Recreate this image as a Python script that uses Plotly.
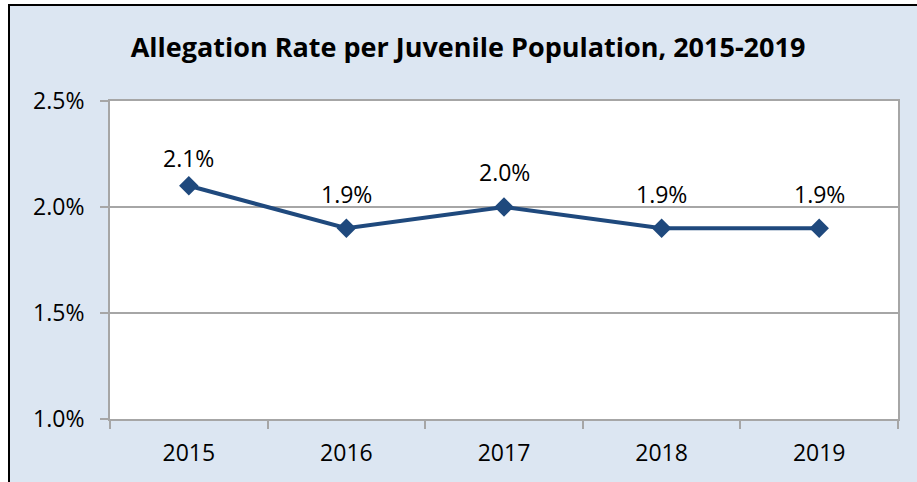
import plotly.graph_objects as go

years = ["2015", "2016", "2017", "2018", "2019"]
rates = [0.021, 0.019, 0.020, 0.019, 0.019]
rate_labels = ["2.1%", "1.9%", "2.0%", "1.9%", "1.9%"]

W, H = 917, 482
# plot area in pixels
left, right, top, bottom = 110, 898, 101, 419
pw, ph = right - left, bottom - top

font_family = "Open Sans, Noto Sans, sans-serif"
line_blue = "#1F497D"
back_blue = "#DCE6F2"
grid_gray = "#A6A6A6"
# vertical offset of each data label above its point (px)
label_shift = [28, 34, 35, 34, 34]

fig = go.Figure()
fig.add_trace(go.Scatter(
    x=years,
    y=rates,
    mode="lines+markers",
    line=dict(color=line_blue, width=4),
    marker=dict(symbol="diamond", size=15, color=line_blue),
    showlegend=False,
    cliponaxis=False,
))

# data labels above each point (category axis -> position by index)
for i, (val, lab) in enumerate(zip(rates, rate_labels)):
    fig.add_annotation(
        x=i, y=val, text=lab, showarrow=False,
        yshift=label_shift[i],
        font=dict(family=font_family, size=23, color="black"),
    )

# outer chart frame (cropped on right and bottom)
fig.add_shape(
    type="rect", xref="paper", yref="paper", layer="below",
    x0=(9 - left) / pw, x1=(W + 20 - left) / pw,
    y0=(bottom - (H + 20)) / ph, y1=(bottom - 5) / ph,
    fillcolor=back_blue, line=dict(color="black", width=2),
)
# white plot area
fig.add_shape(
    type="rect", xref="paper", yref="paper", layer="below",
    x0=0, x1=1, y0=0, y1=1,
    fillcolor="white", line=dict(width=0),
)

fig.update_layout(
    width=W,
    height=H,
    margin=dict(l=left, r=W - right, t=top, b=H - bottom),
    paper_bgcolor="white",
    plot_bgcolor="rgba(0,0,0,0)",
    title=dict(
        text="<b>Allegation Rate per Juvenile Population, 2015-2019</b>",
        x=468 / W, xanchor="center",
        y=1 - 48 / H, yanchor="middle",
        font=dict(family=font_family, size=27, color="black"),
    ),
    font=dict(family=font_family, size=23, color="black"),
)

fig.update_xaxes(
    type="category",
    range=[-0.5, 4.5],
    tickson="boundaries",
    ticks="outside",
    ticklen=8,
    tickcolor=grid_gray,
    tickwidth=2,
    ticklabelstandoff=12,
    showgrid=False,
    showline=True,
    linecolor=grid_gray,
    linewidth=2,
    mirror=True,
    tickfont=dict(family=font_family, size=23, color="black"),
)

fig.update_yaxes(
    range=[0.01, 0.025],
    dtick=0.005,
    tickformat=".1%",
    ticks="outside",
    ticklen=8,
    tickcolor=grid_gray,
    tickwidth=2,
    ticklabelstandoff=11,
    showgrid=True,
    gridcolor=grid_gray,
    gridwidth=1.5,
    showline=True,
    linecolor=grid_gray,
    linewidth=2,
    mirror=True,
    zeroline=False,
    tickfont=dict(family=font_family, size=23, color="black"),
)

fig.write_html(
    "out.html",
    config={"displayModeBar": False},
    post_script="document.body.style.margin='0';",
)
